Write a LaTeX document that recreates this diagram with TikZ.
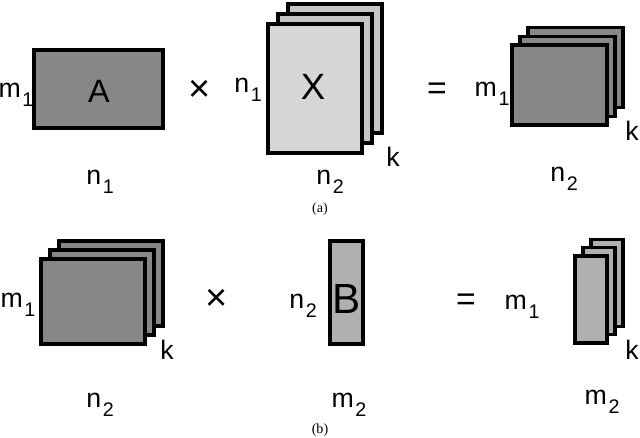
\documentclass[tikz,border=0pt]{standalone}
\usepackage{fontspec}
\setmainfont{Liberation Serif}
\newfontfamily\labfont{Liberation Sans}
\usepackage{tikz}
\usetikzlibrary{positioning,calc}
\definecolor{matdark}{HTML}{878787}
\definecolor{matlight}{HTML}{D6D6D6}
\definecolor{matlightback}{HTML}{C4C4C4}
\definecolor{matmid}{HTML}{B0B0B0}
\newcommand{\lo}[1]{\kern1.2pt\raisebox{-0.32em}{\fontsize{14}{15}\selectfont #1}}

\begin{document}
\begin{tikzpicture}[x=0.025cm, y=-0.025cm,
    every node/.style={inner sep=0pt},
    mat/.style={draw=black, line width=2.2pt},
    lab/.style={font=\labfont\fontsize{19}{21}\selectfont},
    op/.style={font=\labfont\fontsize{27}{29}\selectfont},
    big/.style={font=\labfont\fontsize{30}{32}\selectfont},
    capt/.style={font=\fontsize{10}{12}\selectfont}]
  \useasboundingbox (0,0) rectangle (640,438);
  % (a) A times X equals stack
  \filldraw[mat, fill=matdark] (34,50) rectangle (163,128);
  \node[big, font=\labfont\fontsize{23}{24}\selectfont] (lblA) at (99,91) {A};
  \node[lab] (am1) at (16,95) {m\lo{1}};
  \node[lab] (an1) at (100,182) {n\lo{1}};
  \node[op] (atimes) at (200,91) {×};
  % X stack
  \foreach \d/\c in {20/matlightback,10/matlightback,0/matlight} {
    \filldraw[mat, fill=\c] (268+\d,24-\d) rectangle (362+\d,153-\d);
  }
  \node[big, font=\labfont\fontsize{26}{28}\selectfont] (lblX) at (313,87) {X};
  \node[lab] (xn1) at (248,90) {n\lo{1}};
  \node[lab] (xn2) at (330,182) {n\lo{2}};
  \node[lab] (xk) at (393,157) {k};
  \node[op, font=\labfont\fontsize{24}{26}\selectfont] (aeq) at (437,91) {=};
  \node[lab] (rm1) at (492,94) {m\lo{1}};
  % result stack (a)
  \foreach \d in {16,8,0} {
    \filldraw[mat, fill=matdark] (512+\d,45-\d*1.1) rectangle (607+\d,125-\d*1.1);
  }
  \node[lab] (rk) at (632,131) {k};
  \node[lab] (rn2) at (564,179) {n\lo{2}};
  \node[capt] (capa) at (320,209) {(a)};
  % (b) stack times B equals stack
  \foreach \d in {18,9,0} {
    \filldraw[mat, fill=matdark] (41+\d,259-\d) rectangle (145+\d,344-\d);
  }
  \node[lab] (bm1) at (18,305) {m\lo{1}};
  \node[lab] (bk) at (167,350) {k};
  \node[lab] (bn2) at (100,405) {n\lo{2}};
  \node[op] (btimes) at (217,300) {×};
  \filldraw[mat, fill=matmid] (330,241) rectangle (363,344);
  \node[big] (lblB) at (347,299) {B};
  \node[lab] (bbn2) at (303,306) {n\lo{2}};
  \node[lab] (bm2) at (349,405) {m\lo{2}};
  \node[op, font=\labfont\fontsize{24}{26}\selectfont] (beq) at (466,302) {=};
  \node[lab] (sm1) at (522,307) {m\lo{1}};
  % result stack (b)
  \foreach \d in {16,8,0} {
    \filldraw[mat, fill=matmid] (575+\d,256-\d*1.05) rectangle (607+\d,343-\d*1.05);
  }
  \node[lab] (sk) at (632,350) {k};
  \node[lab] (sm2) at (602,402) {m\lo{2}};
  \node[capt] (capb) at (320,430) {(b)};
\end{tikzpicture}
\end{document}
